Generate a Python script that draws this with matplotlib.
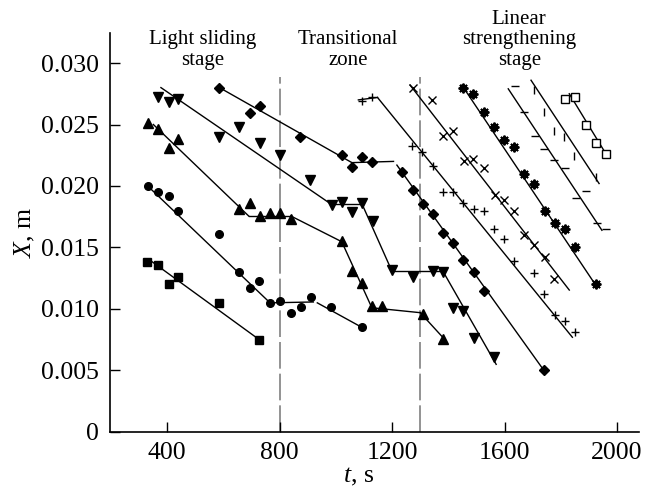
import matplotlib
matplotlib.use("Agg")
import matplotlib.pyplot as plt
import matplotlib.transforms as mtransforms

plt.rcParams['font.family'] = ['Liberation Serif', 'DejaVu Serif']
plt.rcParams['mathtext.fontset'] = 'custom'
plt.rcParams['mathtext.it'] = 'Liberation Serif:italic'
plt.rcParams['mathtext.rm'] = 'Liberation Serif'

# filled squares
sq_t = [330, 367, 405, 440, 585, 728]
sq_x = [0.0138, 0.01355, 0.0120, 0.0126, 0.0105, 0.0075]
sq_fit = [([337, 728], [0.0140, 0.0075])]

# filled circles
ci_t = [331, 368, 405, 440, 585, 657, 693, 728, 766, 802, 840, 875, 911, 982, 1093]
ci_x = [0.0200, 0.0195, 0.0192, 0.0180, 0.0161, 0.0130, 0.0117, 0.0123,
        0.0105, 0.01065, 0.0097, 0.0102, 0.0110, 0.0102, 0.0085]
ci_fit = [([331, 766], [0.0200, 0.0105]),
          ([766, 920], [0.0105, 0.01057]),
          ([934, 1093], [0.0105, 0.0085])]

# filled up triangles
tu_t = [333, 369, 405, 440, 657, 693, 731, 766, 802, 840, 1021, 1059, 1092,
        1128, 1163, 1309, 1382]
tu_x = [0.0251, 0.0246, 0.0231, 0.0238, 0.0181, 0.0186, 0.01756, 0.0178,
        0.0178, 0.0173, 0.01552, 0.0131, 0.0121, 0.01024, 0.01024, 0.0096, 0.0076]
tu_fit = [([351, 690], [0.0250, 0.01756]),
          ([690, 840], [0.01756, 0.01756]),
          ([840, 1021], [0.01756, 0.01547]),
          ([1021, 1128], [0.01547, 0.0101]),
          ([1128, 1300], [0.0101, 0.0097]),
          ([1300, 1388], [0.0097, 0.0075])]

# filled down triangles
td_t = [369, 405, 440, 585, 657, 731, 802, 908, 986, 1021, 1057, 1094, 1131,
        1199, 1274, 1345, 1380, 1418, 1453, 1492, 1563]
td_x = [0.0272, 0.0268, 0.0271, 0.0240, 0.0248, 0.0235, 0.0225, 0.0205,
        0.01846, 0.01872, 0.0179, 0.01859, 0.01715, 0.01317, 0.01258, 0.0131,
        0.0130, 0.01006, 0.0098, 0.00767, 0.0061]
td_fit = [([378, 982], [0.0280, 0.01854]),
          ([982, 1093], [0.01854, 0.01854]),
          ([1093, 1199], [0.01854, 0.0131]),
          ([1199, 1380], [0.0131, 0.0131]),
          ([1380, 1570], [0.0131, 0.0055])]

# filled diamonds
di_t = [586, 693, 731, 873, 1021, 1057, 1094, 1130, 1234, 1274, 1309, 1345,
        1382, 1416, 1453, 1492, 1527, 1740]
di_x = [0.0280, 0.0259, 0.0265, 0.0240, 0.02252, 0.02152, 0.02233, 0.02198,
        0.02116, 0.01967, 0.01854, 0.01772, 0.01615, 0.0154, 0.0140, 0.0130,
        0.01146, 0.0050]
di_fit = [([586, 1057], [0.0280, 0.0219]),
          ([1057, 1205], [0.0219, 0.0220]),
          ([1217, 1740], [0.0217, 0.0050])]

# plus
pl_t = [1092, 1128, 1270, 1306, 1345, 1380, 1416, 1453, 1492, 1527, 1563,
        1598, 1634, 1705, 1740, 1780, 1815, 1851]
pl_x = [0.0269, 0.0272, 0.02325, 0.0228, 0.02165, 0.0195, 0.0195, 0.01864,
        0.0181, 0.0180, 0.0165, 0.0157, 0.0139, 0.0129, 0.0112, 0.0095, 0.0090,
        0.0081]
pl_fit = [([1080, 1148], [0.0270, 0.0272]),
          ([1148, 1841], [0.0272, 0.0077])]

# crosses
xx_t = [1274, 1341, 1382, 1418, 1456, 1489, 1527, 1566, 1598, 1634, 1669,
        1705, 1744, 1776]
xx_x = [0.0280, 0.0270, 0.0241, 0.0245, 0.0220, 0.0222, 0.0215, 0.0193,
        0.0189, 0.0180, 0.0160, 0.0152, 0.0142, 0.0124]
xx_fit = [([1264, 1830], [0.0282, 0.01154])]

# asterisks
as_t = [1453, 1489, 1527, 1563, 1598, 1634, 1669, 1705, 1744, 1780, 1815,
        1851, 1925]
as_x = [0.0280, 0.0275, 0.0260, 0.0248, 0.0237, 0.0232, 0.0210, 0.0202,
        0.0180, 0.0170, 0.0165, 0.0150, 0.0120]
as_fit = [([1448, 1928], [0.0282, 0.0118])]

# horizontal dashes
da_t = [1637, 1670, 1708, 1741, 1777, 1815, 1854, 1890, 1928, 1961]
da_x = [0.0281, 0.0260, 0.0241, 0.0230, 0.0221, 0.0215, 0.0190, 0.0196,
        0.0170, 0.0165]
da_fit = [([1613, 1946], [0.0279, 0.0164])]

# vertical bars
ba_t = [1705, 1741, 1777, 1813, 1848, 1926]
ba_x = [0.0278, 0.0260, 0.0245, 0.0240, 0.0224, 0.0207]
ba_fit = [([1694, 1936], [0.0286, 0.0202])]

# open squares
os_t = [1815, 1851, 1889, 1924, 1960]
os_x = [0.0271, 0.0272, 0.0250, 0.0235, 0.0226]
os_fit = [([1830, 1966], [0.0275, 0.0224])]

stage_bounds = [800, 1300]
stage_labels = ["Light sliding\nstage", "Transitional\nzone",
                "Linear\nstrengthening\nstage"]
stage_label_t = [528, 1044, 1652]

x_ticks = [400, 800, 1200, 1600, 2000]
y_ticks = [0, 0.005, 0.010, 0.015, 0.020, 0.025, 0.030]
y_ticklabels = ["0", "0.005", "0.010", "0.015", "0.020", "0.025", "0.030"]

fig = plt.figure(figsize=(6.53, 4.91), dpi=100)
ax = fig.add_axes([0.1685, 0.1202, 0.8101, 0.8126])

series = [
    (sq_t, sq_x, sq_fit, dict(marker='s', ms=5.5, mfc='black', mec='black')),
    (ci_t, ci_x, ci_fit, dict(marker='o', ms=5.5, mfc='black', mec='black')),
    (tu_t, tu_x, tu_fit, dict(marker='^', ms=6.5, mfc='black', mec='black')),
    (td_t, td_x, td_fit, dict(marker='v', ms=6.5, mfc='black', mec='black')),
    (di_t, di_x, di_fit, dict(marker='D', ms=5, mfc='black', mec='black')),
    (pl_t, pl_x, pl_fit, dict(marker='+', ms=6, mew=1.0, mec='black')),
    (xx_t, xx_x, xx_fit, dict(marker='x', ms=6, mew=1.0, mec='black')),
    (as_t, as_x, as_fit, dict(marker=(8, 2, 0), ms=7, mew=1.4, mec='black')),
    (da_t, da_x, da_fit, dict(marker='_', ms=6, mew=1.0, mec='black')),
    (ba_t, ba_x, ba_fit, dict(marker='|', ms=6, mew=1.0, mec='black')),
    (os_t, os_x, os_fit, dict(marker='s', ms=6, mew=1.0, mfc='white', mec='black')),
]
for t, x, fits, style in series:
    for ft, fx in fits:
        ax.plot(ft, fx, color='black', lw=1.0, zorder=2)
    ax.plot(t, x, ls='none', zorder=3, **style)

for b in stage_bounds:
    ax.plot([b, b], [0, 0.0289], color='#808080', lw=1.2,
            dashes=(16, 3), zorder=1)

trans = mtransforms.blended_transform_factory(ax.transData, fig.transFigure)
for lab, tx in zip(stage_labels, stage_label_t):
    ax.text(tx, 1 - 70 / 491, lab, transform=trans, ha='center', va='bottom',
            fontsize=15, linespacing=1.12, clip_on=False)

ax.set_xlim(197, 2078)
ax.set_ylim(0, 0.03244)
ax.set_xticks(x_ticks)
ax.set_yticks(y_ticks)
ax.set_yticklabels(y_ticklabels)
ax.tick_params(direction='in', length=7, width=1, labelsize=18.5)
ax.tick_params(axis='y', pad=8)
ax.tick_params(axis='x', pad=7)
for s in ['top', 'right']:
    ax.spines[s].set_visible(False)
for s in ['left', 'bottom']:
    ax.spines[s].set_linewidth(1.2)

ax.set_xlabel(r'$t$, s', fontsize=18.5, labelpad=0)
ax.set_ylabel(r'$X$, m', fontsize=18.5, labelpad=2)
ax.xaxis.set_label_coords(0.47, -0.085)
ax.yaxis.set_label_coords(-0.138, 0.5)

fig.savefig("out.png", dpi=100)
